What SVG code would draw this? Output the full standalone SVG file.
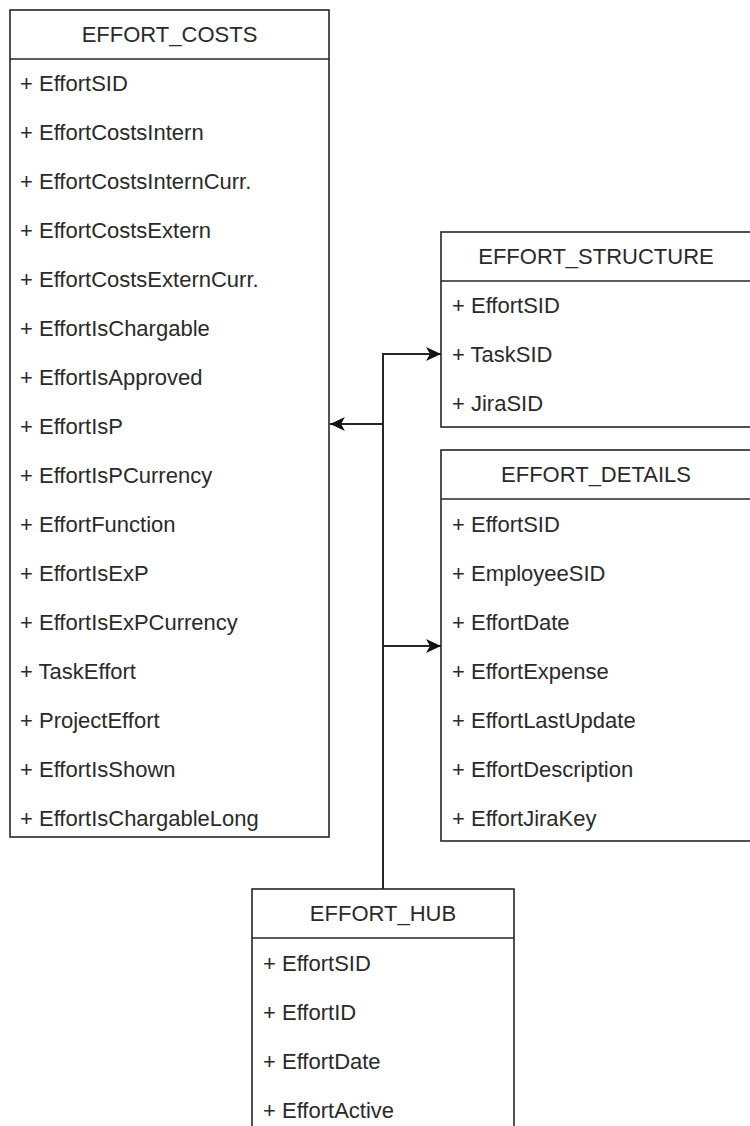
<svg xmlns="http://www.w3.org/2000/svg" width="750" height="1126" viewBox="0 0 750 1126">
  <style>
    .box { fill: #ffffff; stroke: #262626; stroke-width: 1.6; }
    .sep { stroke: #262626; stroke-width: 1.6; }
    .title { font-family: "Liberation Sans", Arial, sans-serif; font-size: 22px; fill: #2a2a2a; text-anchor: middle; }
    .field { font-family: "Liberation Sans", Arial, sans-serif; font-size: 22px; fill: #2a2a2a; }
    .edge { fill: none; stroke: #262626; stroke-width: 2; }
  </style>
  <defs>
    <!-- filled classic arrowhead with a shallow notch -->
    <marker id="arrow" markerUnits="userSpaceOnUse" markerWidth="16" markerHeight="16" refX="15" refY="8" orient="auto">
      <path d="M0,1 L15,8 L0,15 L4,8 Z" fill="#111111"/>
    </marker>
  </defs>

  <rect width="750" height="1126" fill="#ffffff"/>

  <!-- connectors -->
  <g id="connectors">
    <path class="edge" d="M383,889 V354 H441" marker-end="url(#arrow)"/>
    <path class="edge" d="M383,424 H330" marker-end="url(#arrow)"/>
    <path class="edge" d="M383,646 H441" marker-end="url(#arrow)"/>
  </g>

  <!-- EFFORT_COSTS entity -->
  <g id="effort_costs">
    <rect class="box" x="10" y="10" width="319" height="827"/>
    <line class="sep" x1="10" y1="59" x2="329" y2="59"/>
    <text class="title" x="169.5" y="42">EFFORT_COSTS</text>
    <text class="field" x="20" y="91">+ EffortSID</text>
    <text class="field" x="20" y="140">+ EffortCostsIntern</text>
    <text class="field" x="20" y="189">+ EffortCostsInternCurr.</text>
    <text class="field" x="20" y="238">+ EffortCostsExtern</text>
    <text class="field" x="20" y="287">+ EffortCostsExternCurr.</text>
    <text class="field" x="20" y="336">+ EffortIsChargable</text>
    <text class="field" x="20" y="385">+ EffortIsApproved</text>
    <text class="field" x="20" y="434">+ EffortIsP</text>
    <text class="field" x="20" y="483">+ EffortIsPCurrency</text>
    <text class="field" x="20" y="532">+ EffortFunction</text>
    <text class="field" x="20" y="581">+ EffortIsExP</text>
    <text class="field" x="20" y="630">+ EffortIsExPCurrency</text>
    <text class="field" x="20" y="679">+ TaskEffort</text>
    <text class="field" x="20" y="728">+ ProjectEffort</text>
    <text class="field" x="20" y="777">+ EffortIsShown</text>
    <text class="field" x="20" y="826">+ EffortIsChargableLong</text>
  </g>

  <!-- EFFORT_STRUCTURE entity -->
  <g id="effort_structure">
    <rect class="box" x="441" y="232" width="311" height="195"/>
    <line class="sep" x1="441" y1="281" x2="752" y2="281"/>
    <text class="title" x="596" y="264">EFFORT_STRUCTURE</text>
    <text class="field" x="452" y="313">+ EffortSID</text>
    <text class="field" x="452" y="362">+ TaskSID</text>
    <text class="field" x="452" y="411">+ JiraSID</text>
  </g>

  <!-- EFFORT_DETAILS entity -->
  <g id="effort_details">
    <rect class="box" x="441" y="450" width="311" height="391"/>
    <line class="sep" x1="441" y1="499" x2="752" y2="499"/>
    <text class="title" x="596" y="482">EFFORT_DETAILS</text>
    <text class="field" x="452" y="532">+ EffortSID</text>
    <text class="field" x="452" y="581">+ EmployeeSID</text>
    <text class="field" x="452" y="630">+ EffortDate</text>
    <text class="field" x="452" y="679">+ EffortExpense</text>
    <text class="field" x="452" y="728">+ EffortLastUpdate</text>
    <text class="field" x="452" y="777">+ EffortDescription</text>
    <text class="field" x="452" y="826">+ EffortJiraKey</text>
  </g>

  <!-- EFFORT_HUB entity -->
  <g id="effort_hub">
    <rect class="box" x="252" y="889" width="262" height="260"/>
    <line class="sep" x1="252" y1="938" x2="514" y2="938"/>
    <text class="title" x="383" y="921">EFFORT_HUB</text>
    <text class="field" x="263" y="971">+ EffortSID</text>
    <text class="field" x="263" y="1020">+ EffortID</text>
    <text class="field" x="263" y="1069">+ EffortDate</text>
    <text class="field" x="263" y="1118">+ EffortActive</text>
  </g>
</svg>
